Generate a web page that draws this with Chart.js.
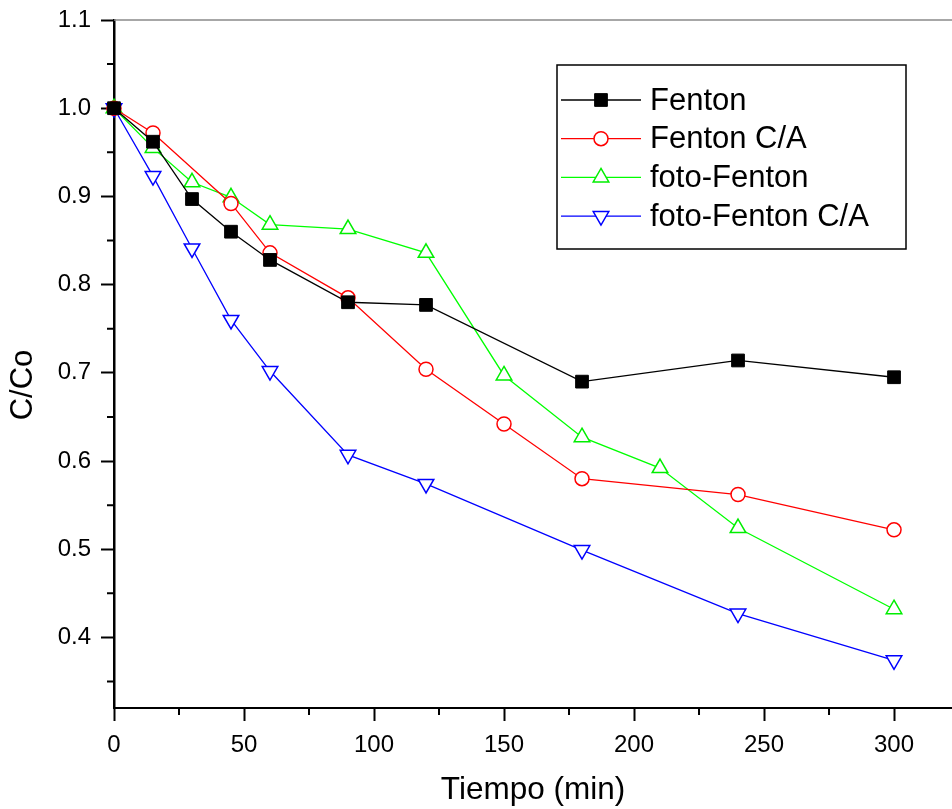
<!DOCTYPE html>
<html>
<head>
<meta charset="utf-8">
<script src="https://cdn.jsdelivr.net/npm/chart.js@4/dist/chart.umd.min.js"></script>
<style>
  body { margin: 0; background: #fff; }
  #wrap { width: 952px; height: 809px; }
</style>
</head>
<body>
<div id="wrap"><canvas id="chart" width="952" height="809"></canvas></div>
<script>
// Datos (tiempo en min, C/Co)
const fentonT = [0, 15, 30, 45, 60, 90, 120, 180, 240, 300];
const fentonC = [1.0, 0.962, 0.897, 0.860, 0.828, 0.780, 0.777, 0.690, 0.714, 0.695];

const fentonCAT = [0, 15, 45, 60, 90, 120, 150, 180, 240, 300];
const fentonCAC = [1.0, 0.972, 0.892, 0.836, 0.785, 0.704, 0.642, 0.580, 0.562, 0.522];

const fotoT = [0, 15, 30, 45, 60, 90, 120, 150, 180, 210, 240, 300];
const fotoC = [1.0, 0.955, 0.916, 0.899, 0.868, 0.863, 0.836, 0.697, 0.627, 0.592, 0.524, 0.432];

const fotoCAT = [0, 15, 30, 45, 60, 90, 120, 180, 240, 300];
const fotoCAC = [1.0, 0.923, 0.841, 0.760, 0.702, 0.607, 0.574, 0.499, 0.427, 0.374];

const seriesNames = ['Fenton', 'Fenton C/A', 'foto-Fenton', 'foto-Fenton C/A'];
const xMajorTicks = [0, 50, 100, 150, 200, 250, 300];
const xMinorTicks = [25, 75, 125, 175, 225, 275];
const yMajorTicks = [0.4, 0.5, 0.6, 0.7, 0.8, 0.9, 1.0, 1.1];
const yMinorTicks = [0.35, 0.45, 0.55, 0.65, 0.75, 0.85, 0.95, 1.05];

const FONT = '"Liberation Sans", Arial, sans-serif';

function toPoints(xs, ys) {
    return xs.map((x, i) => ({ x: x, y: ys[i] }));
}

function onlyTicks(list) {
    return function (scale) {
        scale.ticks = list.map(v => ({ value: v }));
    };
}

// Ticks menores, borde superior, titulo del eje Y y leyenda
const extras = {
    id: 'extras',
    afterDraw(chart) {
        const ctx = chart.ctx;
        const xs = chart.scales.x;
        const ys = chart.scales.y;
        const area = chart.chartArea;
        ctx.save();

        // borde superior gris
        ctx.strokeStyle = '#8a8a8a';
        ctx.lineWidth = 1.5;
        ctx.beginPath();
        ctx.moveTo(area.left, area.top);
        ctx.lineTo(area.right, area.top);
        ctx.stroke();

        // ticks menores
        ctx.strokeStyle = '#000';
        ctx.lineWidth = 2;
        ctx.beginPath();
        xMinorTicks.forEach(v => {
            const px = xs.getPixelForValue(v);
            ctx.moveTo(px, area.bottom);
            ctx.lineTo(px, area.bottom + 7);
        });
        yMinorTicks.forEach(v => {
            const py = ys.getPixelForValue(v);
            ctx.moveTo(area.left, py);
            ctx.lineTo(area.left - 7, py);
        });
        ctx.stroke();

        // titulo eje Y
        ctx.fillStyle = '#000';
        ctx.font = '31px ' + FONT;
        ctx.textAlign = 'center';
        ctx.textBaseline = 'middle';
        ctx.translate(23, 385);
        ctx.rotate(-Math.PI / 2);
        ctx.fillText('C/Co', 0, 0);
        ctx.setTransform(1, 0, 0, 1, 0, 0);

        // leyenda
        ctx.strokeStyle = '#000';
        ctx.lineWidth = 1.5;
        ctx.strokeRect(557, 65, 349, 184);
        ctx.font = '31px ' + FONT;
        ctx.textAlign = 'left';
        ctx.textBaseline = 'middle';
        chart.data.datasets.forEach((ds, i) => {
            const y = 100 + i * 38.7;
            ctx.strokeStyle = ds.borderColor;
            ctx.lineWidth = 1.3;
            ctx.beginPath();
            ctx.moveTo(561, y);
            ctx.lineTo(641, y);
            ctx.stroke();
            ctx.fillStyle = ds.pointBackgroundColor;
            ctx.strokeStyle = ds.pointBorderColor;
            ctx.lineWidth = ds.pointBorderWidth;
            Chart.helpers.drawPoint(ctx, {
                pointStyle: ds.pointStyle,
                radius: ds.pointRadius,
                rotation: ds.pointRotation || 0,
                borderWidth: ds.pointBorderWidth
            }, 601, y);
            ctx.fillStyle = '#000';
            ctx.fillText(ds.label, 650, y + 1);
        });
        ctx.restore();
    }
};

function initializeChart() {
    const datasets = [
        {
            label: seriesNames[0],
            data: toPoints(fentonT, fentonC),
            borderColor: '#000000',
            pointStyle: 'rect',
            pointRadius: 9,
            pointBackgroundColor: '#000000',
            pointBorderColor: '#000000',
            pointBorderWidth: 1
        },
        {
            label: seriesNames[1],
            data: toPoints(fentonCAT, fentonCAC),
            borderColor: '#ff0000',
            pointStyle: 'circle',
            pointRadius: 7,
            pointBackgroundColor: '#ffffff',
            pointBorderColor: '#ff0000',
            pointBorderWidth: 1.5
        },
        {
            label: seriesNames[2],
            data: toPoints(fotoT, fotoC),
            borderColor: '#00ff00',
            pointStyle: 'triangle',
            pointRadius: 9,
            pointBackgroundColor: '#ffffff',
            pointBorderColor: '#00ee00',
            pointBorderWidth: 1.5
        },
        {
            label: seriesNames[3],
            data: toPoints(fotoCAT, fotoCAC),
            borderColor: '#0000ff',
            pointStyle: 'triangle',
            pointRotation: 180,
            pointRadius: 9,
            pointBackgroundColor: '#ffffff',
            pointBorderColor: '#0000ff',
            pointBorderWidth: 1.5
        }
    ];
    datasets.forEach(ds => {
        ds.borderWidth = 1.3;
        ds.fill = false;
        ds.tension = 0;
        ds.clip = false;
        ds.pointHoverRadius = ds.pointRadius;
    });

    new Chart(document.getElementById('chart'), {
        type: 'line',
        data: { datasets: datasets },
        options: {
            responsive: false,
            animation: false,
            layout: { autoPadding: false, padding: { top: 20, right: 0, left: 0, bottom: 0 } },
            plugins: {
                legend: { display: false },
                tooltip: { enabled: false }
            },
            scales: {
                x: {
                    type: 'linear',
                    min: 0,
                    max: 322.3,
                    afterBuildTicks: onlyTicks(xMajorTicks),
                    afterFit: s => { s.height = 101; s.paddingLeft = 0; s.paddingRight = 0; },
                    border: { display: true, color: '#000', width: 2 },
                    grid: {
                        drawOnChartArea: false,
                        drawTicks: true,
                        tickLength: 13,
                        tickWidth: 2,
                        tickColor: '#000'
                    },
                    ticks: {
                        color: '#000',
                        padding: 10,
                        maxRotation: 0,
                        font: { family: FONT, size: 24 }
                    },
                    title: {
                        display: true,
                        text: 'Tiempo (min)',
                        color: '#000',
                        font: { family: FONT, size: 31.5 },
                        padding: { top: 0, bottom: 0 }
                    }
                },
                y: {
                    type: 'linear',
                    min: 0.32,
                    max: 1.1,
                    afterBuildTicks: onlyTicks(yMajorTicks),
                    afterFit: s => { s.width = 114; s.paddingTop = 0; s.paddingBottom = 0; },
                    border: { display: true, color: '#000', width: 2.5 },
                    grid: {
                        drawOnChartArea: false,
                        drawTicks: true,
                        tickLength: 13,
                        tickWidth: 2,
                        tickColor: '#000'
                    },
                    ticks: {
                        color: '#000',
                        padding: 10,
                        font: { family: FONT, size: 24 },
                        callback: v => v.toFixed(1)
                    }
                }
            }
        },
        plugins: [extras]
    });
}

window.addEventListener('load', () => {
    initializeChart();
});
</script>
</body>
</html>
